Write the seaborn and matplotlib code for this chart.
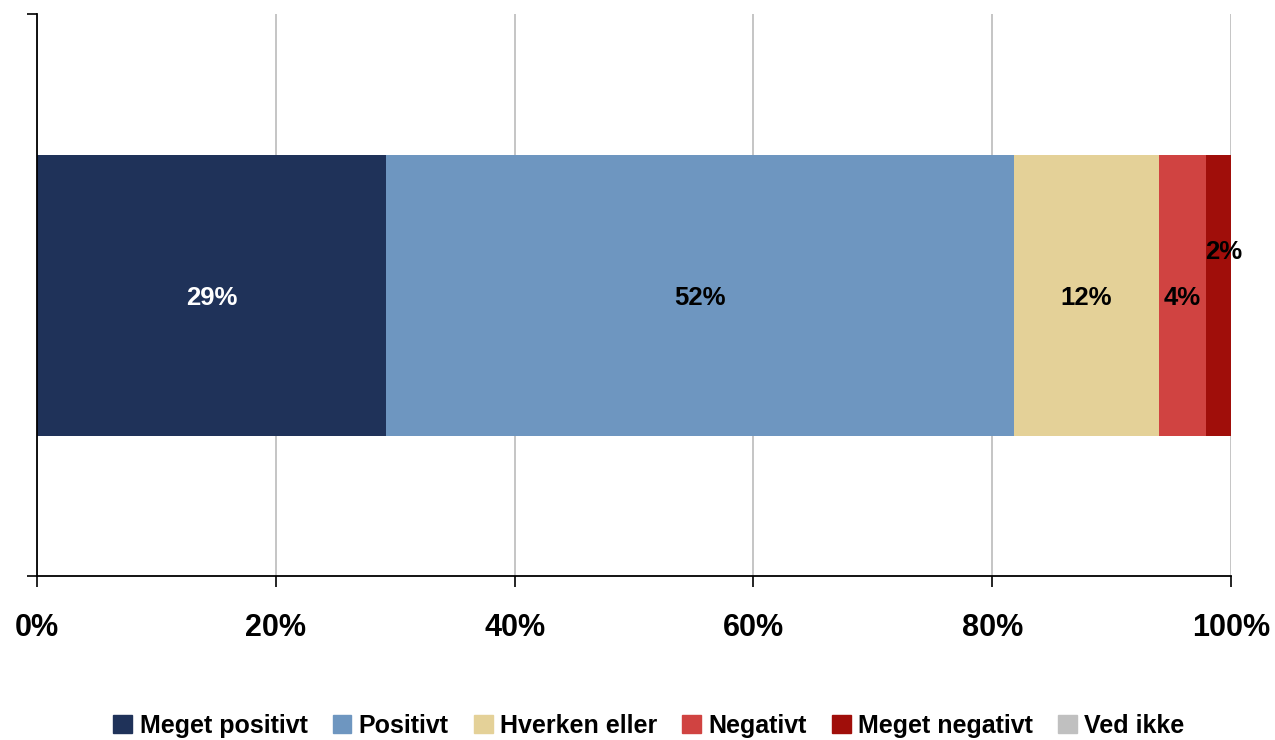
import matplotlib
matplotlib.use('Agg')
import matplotlib.pyplot as plt
import matplotlib.patches as mpatches
import numpy as np
import pandas as pd
import seaborn as sns

# Data
categories = ['Meget positivt', 'Positivt', 'Hverken eller', 'Negativt', 'Meget negativt', 'Ved ikke']
values = [29.2, 52.6, 12.2, 3.9, 2.1, 0.0]
labels = ['29%', '52%', '12%', '4%', '2%', '']
colors = ['#1F3259', '#6E96C0', '#E4D198', '#D04341', '#A00E0A', '#C0C0C0']
label_colors = ['white', 'black', 'black', 'black', 'black', 'black']
xticks = [0, 20, 40, 60, 80, 100]
xtick_labels = ['0%', '20%', '40%', '60%', '80%', '100%']

sns.set_style('white')
plt.rcParams['font.family'] = ['Liberation Sans', 'DejaVu Sans']
plt.rcParams['text.color'] = 'black'
plt.rcParams['xtick.color'] = 'black'
plt.rcParams['ytick.color'] = 'black'

df = pd.DataFrame({'cat': categories, 'value': values})
df['left'] = df['value'].cumsum() - df['value']
df['right'] = df['value'].cumsum()
df['row'] = ''

fig = plt.figure(figsize=(12.75, 7.4), dpi=100)
ax = fig.add_axes([37 / 1275, 1 - 576 / 740, (1231 - 37) / 1275, (576 - 14) / 740])

# stacked bar: draw cumulative totals from largest to smallest so each covers the last
for i in range(len(df) - 1, -1, -1):
    sns.barplot(x=[df['right'][i]], y=[df['row'][i]], orient='h', color=colors[i],
                width=1.0, saturation=1, ax=ax, zorder=3, linewidth=0)

for i in range(len(df)):
    if labels[i] == '':
        continue
    cx = df['left'][i] + df['value'][i] / 2
    dx, dy = (0, -2)
    if categories[i] == 'Meget negativt':
        dx, dy = (4, 31)
    ax.annotate(labels[i], (cx, 0), xytext=(dx, dy), textcoords='offset points',
                ha='center', va='center', fontsize=18.5, fontweight='bold',
                color=label_colors[i], zorder=5, annotation_clip=False)

ax.set_xlim(0, 100)
ax.set_ylim(1, -1)
ax.set_xticks(xticks)
ax.set_xticklabels(xtick_labels, fontsize=22, fontweight='bold', color='black')
ax.set_yticks([-1, 1])
ax.set_yticklabels(['', ''])
ax.set_xlabel('')
ax.set_ylabel('')
ax.xaxis.grid(True, color='#C0C0C0', linewidth=1.3, zorder=0)
ax.yaxis.grid(False)
ax.tick_params(axis='x', direction='out', length=8, width=1.2, color='black', pad=19, bottom=True)
ax.tick_params(axis='y', direction='out', length=7, width=1.2, color='black', left=True)
for s in ['top', 'right']:
    ax.spines[s].set_visible(False)
for s in ['left', 'bottom']:
    ax.spines[s].set_color('black')
    ax.spines[s].set_linewidth(1.3)
    ax.spines[s].set_zorder(4)

handles = [mpatches.Patch(color=c, label=l) for c, l in zip(colors, categories)]
fig.legend(handles=handles, loc='center', bbox_to_anchor=(0.509, 0.019), ncol=6,
           frameon=False, prop={'size': 18, 'weight': 'bold'}, labelcolor='black',
           handlelength=0.75, handleheight=0.75, handletextpad=0.3, columnspacing=1.0)

fig.savefig('out.png', dpi=100)
